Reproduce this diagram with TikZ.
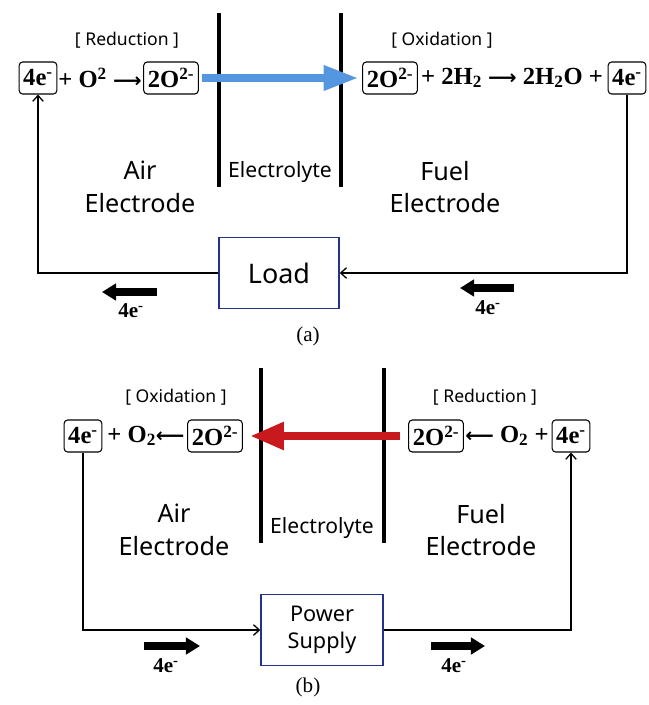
\documentclass[tikz,border=0pt]{standalone}
\usepackage{fontspec}
\setmainfont{Liberation Serif}
\newfontfamily\labelfont{Noto Sans}
\newfontfamily\arrowfont{DejaVu Sans}
\newcommand{\rarr}{{\arrowfont\bfseries\fontsize{17}{20}\selectfont ⟶}}
\newcommand{\larr}{{\arrowfont\bfseries\fontsize{17}{20}\selectfont ⟵}}
\usetikzlibrary{arrows.meta}
\definecolor{ionblue}{RGB}{85,150,225}
\definecolor{ionred}{RGB}{200,25,30}
\definecolor{boxnavy}{RGB}{35,50,140}

\begin{document}
\begin{tikzpicture}[x=0.03cm, y=-0.03cm, >={Straight Barb[length=5pt, width=9pt]},
    eqtext/.style={font=\fontsize{21}{24}\selectfont\bfseries, inner sep=0pt},
    ebox/.style={draw, rounded corners=3pt, line width=0.9pt, inner xsep=3.5pt, inner ysep=2pt, minimum height=0.96cm, font=\fontsize{21}{24}\selectfont\bfseries},
    tag/.style={font=\labelfont\fontsize{15}{18}\selectfont},
    side/.style={font=\labelfont\fontsize{21.5}{28}\selectfont, align=center},
    elyte/.style={font=\labelfont\fontsize{18}{21}\selectfont},
    wall/.style={line width=3.5pt},
    device/.style={draw=boxnavy, line width=1.2pt, minimum height=2.13cm, align=center},
    wire/.style={->, line width=1.1pt},
    flow/.style={line width=7pt, -{Triangle[length=12pt, width=14pt]}},
    flowlbl/.style={font=\fontsize{18}{20}\selectfont\bfseries},
    subcap/.style={font=\fontsize{18}{20}\selectfont}]
    \useasboundingbox (0,0) rectangle (649,705);

    % (a) fuel cell
    \draw[wall] (219,13) -- (219,187);
    \draw[wall] (341,13) -- (341,187);
    \node[tag] (redA) at (127,40) {[ Reduction ]};
    \node[tag] (oxA) at (442,40) {[ Oxidation ]};

    \node[ebox] (ea1) at (38,78) {4e\textsuperscript{-}};
    \node[eqtext] (ra1) at (100,78) {+ O\textsuperscript{2} \rarr};
    \node[ebox] (oa1) at (171,78) {2O\textsuperscript{2-}};
    \node[ebox] (ob1) at (390,78) {2O\textsuperscript{2-}};
    \node[eqtext] (ra2) at (512,78) {+ 2H\textsubscript{2} \rarr{} 2H\textsubscript{2}O +};
    \node[ebox] (ea4) at (627,78) {4e\textsuperscript{-}};

    \draw[ionblue, line width=7pt, -{Triangle[length=30pt, width=20pt]}, shorten <=3pt, shorten >=3pt] (oa1.east) -- (ob1.west);

    \node[side] (airA) at (140,187) {Air\\Electrode};
    \node[elyte] (elA) at (280,172) {Electrolyte};
    \node[side] (fuelA) at (445,187) {Fuel\\Electrode};

    \node[device, minimum width=3.6cm, font=\labelfont\fontsize{23}{26}\selectfont] (load) at (279,273) {Load};
    \draw[wire] (load.west) -| (ea1.south);
    \draw[wire] (ea4.south) |- (load.east);

    \coordinate (fa1) at (157,292);
    \coordinate (fa2) at (102,292);
    \draw[flow] (fa1) -- (fa2);
    \node[flowlbl] at (131,311) {4e\textsuperscript{-}};
    \coordinate (fa3) at (514,288);
    \coordinate (fa4) at (460,288);
    \draw[flow] (fa3) -- (fa4);
    \node[flowlbl] at (488,308) {4e\textsuperscript{-}};

    \node[subcap] (capA) at (308,336) {(a)};

    % (b) electrolysis cell
    \draw[wall] (261,368) -- (261,543);
    \draw[wall] (384,368) -- (384,543);
    \node[tag] (oxB) at (176,397) {[ Oxidation ]};
    \node[tag] (redB) at (485,397) {[ Reduction ]};

    \node[ebox] (eb1) at (83,436) {4e\textsuperscript{-}};
    \node[eqtext] (rb1) at (146,436) {+ O\textsubscript{2}\larr};
    \node[ebox] (ob2) at (215,436) {2O\textsuperscript{2-}};
    \node[ebox] (ob3) at (436,436) {2O\textsuperscript{2-}};
    \node[eqtext] (rb2) at (507,436) {\larr{} O\textsubscript{2} +};
    \node[ebox] (eb4) at (571,436) {4e\textsuperscript{-}};

    \draw[ionred, line width=7.5pt, -{Triangle[length=29pt, width=22pt]}, shorten <=7pt, shorten >=6pt] (ob3.west) -- (ob2.east);

    \node[side] (airB) at (174,530) {Air\\Electrode};
    \node[elyte] (elB) at (322,528) {Electrolyte};
    \node[side] (fuelB) at (481,530) {Fuel\\Electrode};

    \node[device, minimum width=3.66cm, font=\labelfont\fontsize{18.5}{23}\selectfont] (supply) at (322,630) {Power\\Supply};
    \draw[wire] (eb1.south) |- (supply.west);
    \draw[wire] (supply.east) -| (eb4.south);

    \coordinate (fb1) at (144,646);
    \coordinate (fb2) at (200,646);
    \draw[flow] (fb1) -- (fb2);
    \node[flowlbl] at (166,666) {4e\textsuperscript{-}};
    \coordinate (fb3) at (431,646);
    \coordinate (fb4) at (485,646);
    \draw[flow] (fb3) -- (fb4);
    \node[flowlbl] at (454,666) {4e\textsuperscript{-}};

    \node[subcap] (capB) at (308,687) {(b)};
\end{tikzpicture}
\end{document}
